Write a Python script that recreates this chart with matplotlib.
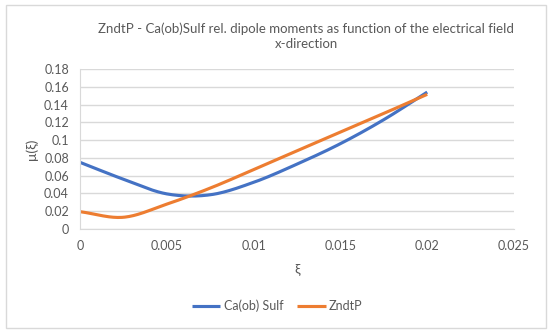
import numpy as np
import matplotlib
matplotlib.use("Agg")
import matplotlib.pyplot as plt
from matplotlib.patches import Rectangle

xi = [0.0, 0.0025, 0.005, 0.0075, 0.01, 0.0125, 0.015, 0.0175, 0.02]
ca_sulf = [0.075, 0.056, 0.0395, 0.0385, 0.0525, 0.073, 0.096, 0.123, 0.154]
zndtp = [0.0195, 0.0132, 0.028, 0.046, 0.0668, 0.088, 0.109, 0.130, 0.1515]
series_names = ["Ca(ob) Sulf", "ZndtP"]
colors = ["#4472C4", "#ED7D31"]
xticks = [0, 0.005, 0.01, 0.015, 0.02, 0.025]
xtick_labels = ["0", "0.005", "0.01", "0.015", "0.02", "0.025"]
yticks = [0, 0.02, 0.04, 0.06, 0.08, 0.1, 0.12, 0.14, 0.16, 0.18]
ytick_labels = ["0", "0.02", "0.04", "0.06", "0.08", "0.1", "0.12", "0.14", "0.16", "0.18"]


def smooth(x, y, n=30):
    # Catmull-Rom style smoothing (like Excel's smoothed line)
    x = np.asarray(x, float)
    y = np.asarray(y, float)
    px = np.concatenate([[2 * x[0] - x[1]], x, [2 * x[-1] - x[-2]]])
    py = np.concatenate([[2 * y[0] - y[1]], y, [2 * y[-1] - y[-2]]])
    outx, outy = [], []
    for i in range(1, len(px) - 2):
        t = np.linspace(0, 1, n, endpoint=False)
        for arr, out in ((px, outx), (py, outy)):
            p0, p1, p2, p3 = arr[i - 1], arr[i], arr[i + 1], arr[i + 2]
            out.extend(0.5 * ((2 * p1) + (-p0 + p2) * t
                              + (2 * p0 - 5 * p1 + 4 * p2 - p3) * t ** 2
                              + (-p0 + 3 * p1 - 3 * p2 + p3) * t ** 3))
    outx.append(x[-1])
    outy.append(y[-1])
    return np.array(outx), np.array(outy)


plt.rcParams['font.family'] = ['Lato', 'DejaVu Sans']
txt = "#595959"

fig = plt.figure(figsize=(5.5, 3.33), dpi=100)
fig.patches.append(Rectangle((6 / 550, 5 / 333), 540 / 550, 323 / 333,
                             transform=fig.transFigure, fill=False,
                             edgecolor="#d9d9d9", lw=1))
ax = fig.add_axes([80 / 550, 104 / 333, 434 / 550, 160 / 333])

for ys, name, c in zip([ca_sulf, zndtp], series_names, colors):
    sx, sy = smooth(xi, ys)
    ax.plot(sx, sy, color=c, lw=2.25, label=name, solid_capstyle="butt")

ax.set_xlim(0, 0.025)
ax.set_ylim(0, 0.18)
ax.set_xticks(xticks)
ax.set_xticklabels(xtick_labels)
ax.set_yticks(yticks)
ax.set_yticklabels(ytick_labels)
ax.grid(axis="y", color="#d9d9d9", lw=1)
ax.set_axisbelow(True)
for s in ["top", "right"]:
    ax.spines[s].set_visible(False)
ax.spines["left"].set_color("#d9d9d9")
ax.spines["bottom"].set_color("#d9d9d9")
ax.tick_params(length=0, colors=txt, labelsize=9, pad=8)
ax.set_xlabel("ξ", color=txt, fontsize=10, labelpad=8)
ax.set_ylabel("μ(ξ)", color=txt, fontsize=10, labelpad=4)

fig.text(306 / 550, 1 - 36 / 333,
         "ZndtP - Ca(ob)Sulf rel. dipole moments as function of the electrical field\nx-direction",
         ha="center", va="center", color=txt, fontsize=9.5, linespacing=1.35)

fig.legend(loc="center", bbox_to_anchor=(277 / 550, 1 - 306 / 333), ncol=2,
           frameon=False, fontsize=9, labelcolor=txt, handlelength=2.3,
           handletextpad=0.25, columnspacing=1.1)

fig.savefig("out.png", dpi=100)
